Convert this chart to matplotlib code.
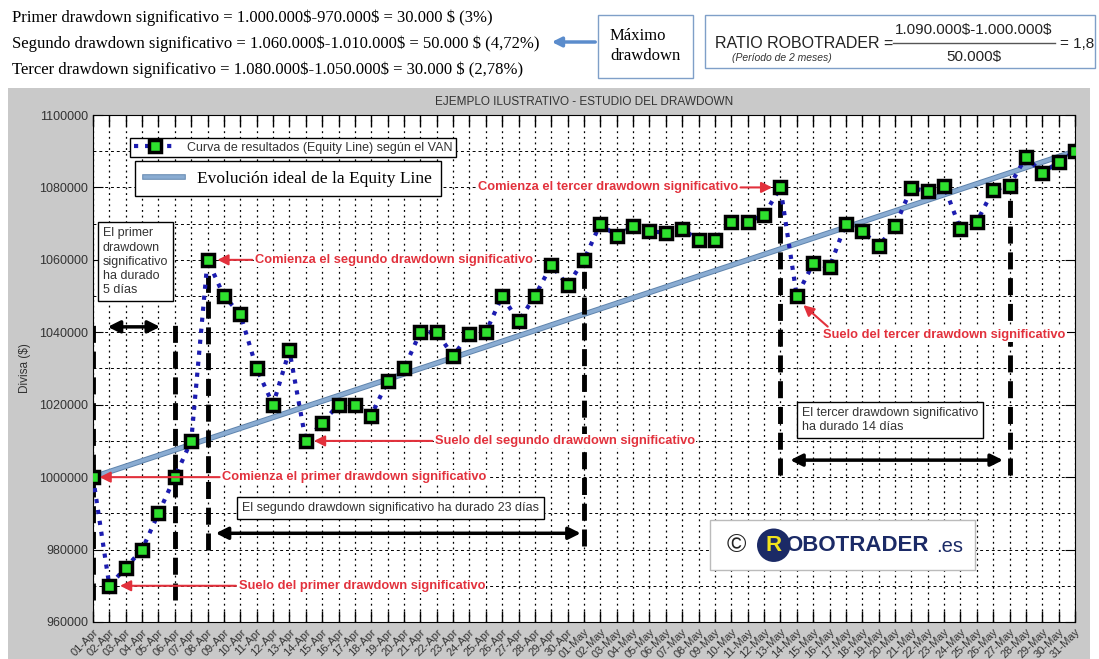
import matplotlib
matplotlib.use("Agg")
import matplotlib.pyplot as plt
import matplotlib.patheffects as pe
from matplotlib.patches import Rectangle, FancyArrowPatch
from matplotlib.lines import Line2D
from matplotlib.ticker import MultipleLocator

plt.rcParams["font.family"] = ["Liberation Sans", "DejaVu Sans"]

# Datos (01-Apr .. 31-May)
fechas = [f"{d:02d}-Apr" for d in range(1, 31)] + [f"{d:02d}-May" for d in range(1, 32)]
equity = [1000000, 970000, 975000, 980000, 990000, 1000000, 1010000, 1060000,
          1050000, 1045000, 1030000, 1020000, 1035000, 1010000, 1015000, 1020000,
          1020000, 1017000, 1026500, 1030000, 1040000, 1040000, 1033500, 1039500,
          1040000, 1050000, 1043000, 1050000, 1058500, 1053000, 1060000, 1070000,
          1066500, 1069300, 1068000, 1067400, 1068500, 1065500, 1065500, 1070500,
          1070500, 1072400, 1080000, 1050000, 1059000, 1058000, 1070000, 1068000,
          1063800, 1069300, 1079800, 1079000, 1080400, 1068500, 1070500, 1079300,
          1080400, 1088400, 1084000, 1087000, 1090000]
ideal_x = [0, 60]
ideal_y = [1000000, 1090000]

# lineas verticales de cada drawdown (indice, y inicial, y final)
marcas_x = [0, 5, 7, 30, 42, 56]
marcas_y0 = [966000, 966000, 980000, 981000, 1000500, 1000500]
marcas_y1 = [1044000, 1044000, 1059000, 1059000, 1080500, 1080500]

# flechas de duracion
dur_x0 = [0.9, 7.5, 42.6]
dur_x1 = [4.1, 29.8, 55.6]
dur_y = [1041500, 984500, 1004700]

ROJO = "#e2313c"
GRIS_TXT = "#333333"

fig = plt.figure(figsize=(10.99, 6.59), dpi=100)
fondo = Rectangle((8 / 1099, 0), 1082 / 1099, 1 - 88 / 659, transform=fig.transFigure,
                  facecolor="#c9c9c9", edgecolor="none", zorder=-5)
fig.add_artist(fondo)

ax = fig.add_axes([93 / 1099, 1 - 622 / 659, 982 / 1099, 507 / 659])
ax.set_facecolor("white")

x = list(range(len(fechas)))
ideal, = ax.plot(ideal_x, ideal_y, color="#8aacd2", lw=2.6, zorder=3,
                 path_effects=[pe.Stroke(linewidth=4, foreground="#5f84ad"), pe.Normal()])
curva, = ax.plot(x, equity, ls=":", color="#1c1cb0", lw=3, marker="s", ms=9,
                 mfc="#2ee02e", mec="black", mew=2.5, zorder=5)

for xm, y0, y1 in zip(marcas_x, marcas_y0, marcas_y1):
    ax.plot([xm, xm], [y0, y1], color="black", lw=3.5, ls=(0, (3.5, 1.8)), zorder=4)

for a, b, yy in zip(dur_x0, dur_x1, dur_y):
    ax.annotate("", xy=(b, yy), xytext=(a, yy),
                arrowprops=dict(arrowstyle="<|-|>", lw=2.5, color="black",
                                mutation_scale=18, shrinkA=0, shrinkB=0), zorder=4)

ax.set_xlim(0, 60)
ax.set_ylim(960000, 1100000)
ax.set_xticks(x)
ax.set_xticklabels(fechas, rotation=45, ha="right", rotation_mode="anchor",
                   fontsize=8, color=GRIS_TXT)
ax.yaxis.set_major_locator(MultipleLocator(20000))
ax.yaxis.set_minor_locator(MultipleLocator(10000))
ax.tick_params(axis="y", which="major", labelsize=9, labelcolor=GRIS_TXT,
               direction="in", length=7, right=True)
ax.tick_params(axis="y", which="minor", length=0)
ax.tick_params(axis="x", direction="in", length=8, top=True, width=1)
ax.grid(axis="x", color="black", ls=(0, (1.5, 3)), lw=0.9)
ax.grid(axis="y", which="both", color="black", ls=(0, (3, 3)), lw=0.7)
ax.set_axisbelow(True)
ax.yaxis.get_major_formatter().set_scientific(False)
ax.yaxis.get_major_formatter().set_useOffset(False)
ax.set_ylabel("Divisa (\\$)", fontsize=8.5, color=GRIS_TXT, labelpad=6)
ax.set_title("EJEMPLO ILUSTRATIVO - ESTUDIO DEL DRAWDOWN", fontsize=8.5,
             color=GRIS_TXT, pad=7)

# leyendas
leg1 = ax.legend([curva], ["Curva de resultados (Equity Line) según el VAN"],
                 loc="upper left", bbox_to_anchor=(0.038, 0.955), fontsize=9,
                 fancybox=False, edgecolor="black", framealpha=1, borderpad=0.3,
                 borderaxespad=0, handlelength=3.4)
leg1.get_frame().set_linewidth(1)
for t in leg1.get_texts():
    t.set_color(GRIS_TXT)
ax.add_artist(leg1)
leg2 = ax.legend([ideal], ["Evolución ideal de la Equity Line"],
                 loc="upper left", bbox_to_anchor=(0.043, 0.909),
                 prop={"family": "Liberation Serif", "size": 12.5},
                 fancybox=False, edgecolor="black", framealpha=1, borderpad=0.55,
                 borderaxespad=0, handlelength=2.2)
leg2.get_frame().set_linewidth(1)
leg2.set_zorder(6)

# cajas de duracion
caja = dict(boxstyle="square,pad=0.4", facecolor="white", edgecolor="black", lw=1)
ax.text(0.6, 1069000, "El primer\ndrawdown\nsignificativo\nha durado\n5 días",
        fontsize=9, color=GRIS_TXT, va="top", ha="left", bbox=caja, zorder=6,
        linespacing=1.25)
ax.text(9.1, 991500, "El segundo drawdown significativo ha durado 23 días",
        fontsize=9, color=GRIS_TXT, va="center", ha="left", bbox=caja, zorder=6)
ax.text(43.3, 1019500, "El tercer drawdown significativo\nha durado 14 días",
        fontsize=9, color=GRIS_TXT, va="top", ha="left", bbox=caja, zorder=6,
        linespacing=1.3)

# anotaciones rojas
flecha = dict(arrowstyle="-|>", color=ROJO, lw=1.5, mutation_scale=16,
              shrinkA=1, shrinkB=0)
fondo_txt = dict(boxstyle="square,pad=0.1", facecolor="white", edgecolor="none")
rojas = [
    ("Comienza el primer drawdown significativo", (0.4, 1000000), (7.9, 1000000), "left", (0, 0.5)),
    ("Suelo del primer drawdown significativo", (1.65, 970000), (8.9, 970000), "left", (0, 0.5)),
    ("Comienza el segundo drawdown significativo", (7.6, 1060000), (9.9, 1060000), "left", (0, 0.5)),
    ("Suelo del segundo drawdown significativo", (13.5, 1010000), (20.9, 1010000), "left", (0, 0.5)),
    ("Comienza el tercer drawdown significativo", (41.5, 1080000), (39.4, 1080000), "right", (1, 0.5)),
    ("Suelo del tercer drawdown significativo", (43.4, 1047500), (44.6, 1039300), "left", (0.03, 1.0)),
]
for texto, punta, pos, alin, rel in rojas:
    ax.annotate(texto, xy=punta, xytext=pos, va="center", ha=alin, color=ROJO,
                fontsize=9.3, fontweight="bold", bbox=fondo_txt, zorder=7,
                arrowprops=dict(flecha, relpos=rel))

# marca de agua
ax.add_patch(Rectangle((37.7, 974300), 16.2, 13900, facecolor="white",
                       edgecolor="#bbbbbb", lw=1, zorder=6))
ax.text(38.7, 981200, "©", fontsize=19, color="#222222", va="center", ha="left", zorder=7)
ax.text(41.1, 981200, "R", fontsize=16, fontweight="bold", color="#f2e21c",
        va="center", ha="left", zorder=7,
        bbox=dict(boxstyle="circle,pad=0.28", facecolor="#1b2a66", edgecolor="none"))
ax.text(42.3, 981200, "OBOTRADER", fontsize=16, fontweight="bold", color="#1b2a66",
        va="center", ha="left", zorder=7)
ax.text(51.5, 980900, ".es", fontsize=14.5, color="#1b2a66", va="center", ha="left", zorder=7)

# texto superior
serif = "Liberation Serif"
lineas = ["Primer drawdown significativo = 1.000.000\\$-970.000\\$ = 30.000 \\$ (3%)",
          "Segundo drawdown significativo = 1.060.000\\$-1.010.000\\$ = 50.000 \\$ (4,72%)",
          "Tercer drawdown significativo = 1.080.000\\$-1.050.000\\$ = 30.000 \\$ (2,78%)"]
for linea, py in zip(lineas, [18, 44, 70]):
    fig.text(12 / 1099, 1 - py / 659, linea, family=serif, fontsize=12,
             va="center", ha="left", color="black")

fig.patches.append(Rectangle((598 / 1099, 1 - 78 / 659), 95 / 1099, 63 / 659,
                             transform=fig.transFigure, facecolor="white",
                             edgecolor="#7f9fc8", lw=1))
fig.text(610 / 1099, 1 - 46 / 659, "Máximo\ndrawdown", family=serif, fontsize=12,
         va="center", ha="left", linespacing=1.3)
fig.add_artist(FancyArrowPatch(
    (598 / 1099, 1 - 42 / 659), (549 / 1099, 1 - 42 / 659), transform=fig.transFigure,
    arrowstyle="-|>", mutation_scale=14, color="#5b8ccc", lw=2.5))

fig.patches.append(Rectangle((705 / 1099, 1 - 68 / 659), 390 / 1099, 53 / 659,
                             transform=fig.transFigure, facecolor="white",
                             edgecolor="#7f9fc8", lw=1))
fig.text(715 / 1099, 1 - 44 / 659, "RATIO ROBOTRADER =", fontsize=11.5,
         va="center", ha="left", color="#222222")
fig.text(732 / 1099, 1 - 58 / 659, "(Período de 2 meses)", fontsize=7.5, style="italic",
         va="center", ha="left", color="#333333")
fig.text(974 / 1099, 1 - 30 / 659, "1.090.000\\$-1.000.000\\$", fontsize=11,
         va="center", ha="center", color="#222222")
fig.add_artist(Line2D([893 / 1099, 1055 / 1099], [1 - 43 / 659, 1 - 43 / 659],
                      transform=fig.transFigure, color="#555555", lw=1))
fig.text(974 / 1099, 1 - 57 / 659, "50.000\\$", fontsize=11,
         va="center", ha="center", color="#222222")
fig.text(1060 / 1099, 1 - 44 / 659, "= 1,8", fontsize=11,
         va="center", ha="left", color="#222222")

fig.savefig("out.png", dpi=100)
